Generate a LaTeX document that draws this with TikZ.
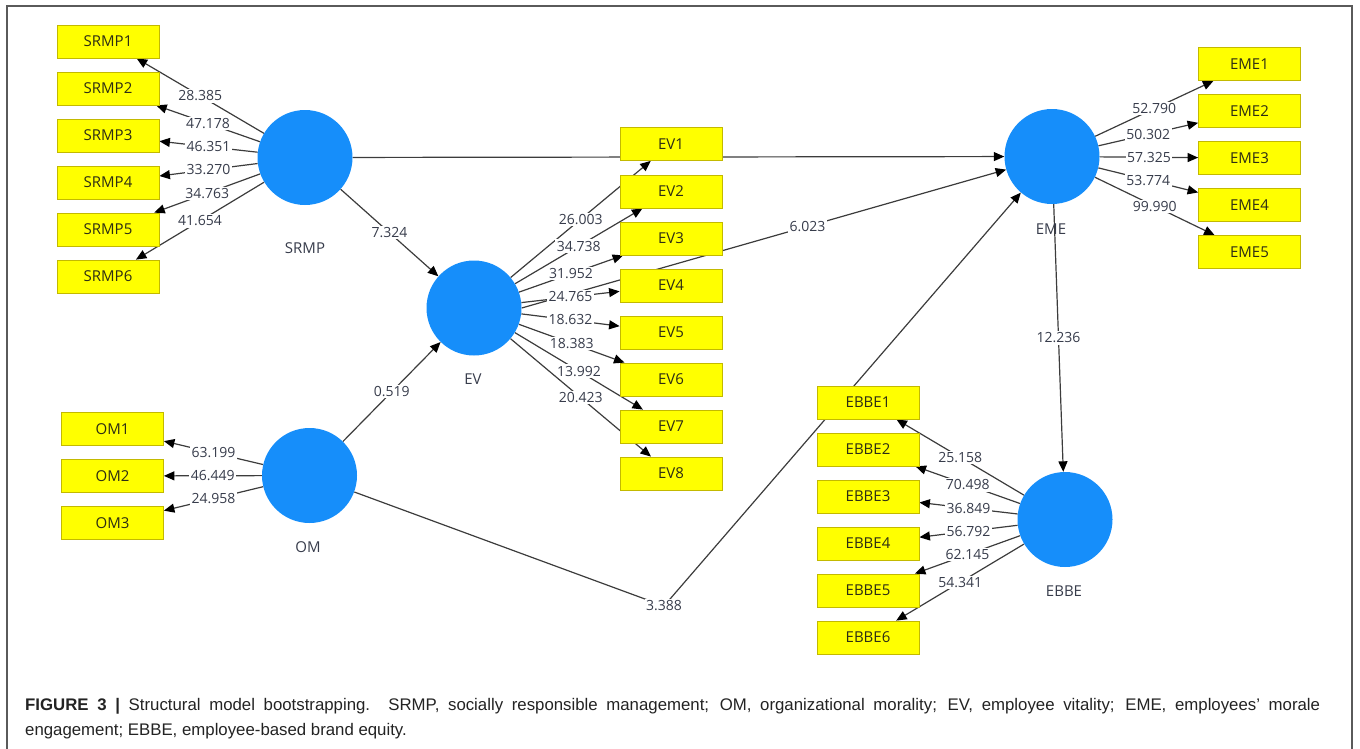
\documentclass[tikz,border=0pt]{standalone}
\usepackage{fontspec}
\setmainfont{Open Sans}
\newfontfamily\capfont{Liberation Sans}
\usetikzlibrary{arrows.meta,backgrounds}
\definecolor{lvblue}{RGB}{22,142,250}
\definecolor{mvyellow}{RGB}{255,255,0}
\definecolor{mvborder}{RGB}{195,185,0}
\definecolor{edgecol}{RGB}{60,60,60}
\definecolor{lblcol}{RGB}{55,60,75}
\definecolor{txtcol}{RGB}{45,45,20}
\definecolor{framecol}{RGB}{90,90,90}
\definecolor{capcol}{RGB}{35,35,35}
\begin{document}
\begin{tikzpicture}[x=1pt,y=-1pt,
  lv/.style={circle,fill=lvblue,minimum size=95pt,inner sep=0pt},
  mv/.style={rectangle,fill=mvyellow,draw=mvborder,line width=0.8pt,minimum width=102pt,minimum height=33pt,inner sep=0pt,font=\fontsize{15}{15}\selectfont,text=txtcol},
  lvname/.style={font=\fontsize{15}{15}\selectfont,text=lblcol},
  lbl/.style={fill=white,inner sep=1.5pt,font=\fontsize{14}{14}\selectfont,text=lblcol},
  edge/.style={draw=edgecol,line width=1.2pt,-{Triangle[length=10.5pt,width=9pt,color=black]}}
  ]
\useasboundingbox (0,0) rectangle (1360,748);
\draw[framecol,line width=1.3pt] (7,770) -- (7,6) -- (1352,6) -- (1352,770);

% latent variables
\node[lv] (SRMP) at (305,157.5) {};
\node[lv] (EV) at (474,308) {};
\node[lv] (EME) at (1052,156.5) {};
\node[lv] (EBBE) at (1065,519.5) {};
\node[lv] (OM) at (309.5,475.5) {};
\node[lvname] (SRMPn) at (305,248) {SRMP};
\node[lvname] (EVn) at (473,379) {EV};
\node[lvname] (EMEn) at (1051,229) {EME};
\node[lvname] (EBBEn) at (1064,591) {EBBE};
\node[lvname] (OMn) at (308,547) {OM};

% indicators
\foreach \i/\y in {1/41.5,2/88.5,3/135.5,4/182.5,5/229.5,6/276.5}
  \node[mv] (SRMP\i) at (108,\y) {SRMP\i};
\foreach \i/\y in {1/144,2/191.5,3/238.5,4/285.5,5/332.5,6/379.5,7/426.5,8/473.5}
  \node[mv] (EV\i) at (671,\y) {EV\i};
\foreach \i/\y in {1/64,2/111,3/158,4/205,5/252}
  \node[mv] (EME\i) at (1249.5,\y) {EME\i};
\foreach \i/\y in {1/402.5,2/449.5,3/496.5,4/543.5,5/590.5,6/637.5}
  \node[mv] (EBBE\i) at (868,\y) {EBBE\i};
\foreach \i/\y in {1/429,2/476,3/523}
  \node[mv] (OM\i) at (112.5,\y) {OM\i};

\coordinate (bend) at (664,606);

\begin{scope}[on background layer]
% structural paths
\draw[edge] (SRMP) -- (EME);
\draw[edge] (SRMP) -- node[lbl]{7.324} (EV);
\draw[edge] (OM) -- node[lbl]{0.519} (EV);
\draw[edge] (EV.east) -- node[lbl,pos=0.59]{6.023} (EME);
\draw[edge] (OM) -- (bend) -- (EME);
\node[lbl] (b3388) at (bend) {3.388};
\draw[edge] (EME) -- node[lbl]{12.236} (EBBE);

% outer model SRMP
\draw[edge] (SRMP) -- node[lbl]{28.385} (SRMP1);
\draw[edge] (SRMP) -- node[lbl]{47.178} (SRMP2);
\draw[edge] (SRMP) -- node[lbl]{46.351} (SRMP3);
\draw[edge] (SRMP) -- node[lbl]{33.270} (SRMP4);
\draw[edge] (SRMP) -- node[lbl]{34.763} (SRMP5);
\draw[edge] (SRMP) -- node[lbl]{41.654} (SRMP6);
% EV
\draw[edge] (EV) -- node[lbl]{26.003} (EV1);
\draw[edge] (EV) -- node[lbl]{34.738} (EV2);
\draw[edge] (EV) -- node[lbl]{31.952} (EV3);
\draw[edge] (EV) -- node[lbl]{24.765} (EV4);
\draw[edge] (EV) -- node[lbl]{18.632} (EV5);
\draw[edge] (EV) -- node[lbl]{18.383} (EV6);
\draw[edge] (EV) -- node[lbl]{13.992} (EV7);
\draw[edge] (EV) -- node[lbl]{20.423} (EV8);
% EME
\draw[edge] (EME) -- node[lbl]{52.790} (EME1);
\draw[edge] (EME) -- node[lbl]{50.302} (EME2);
\draw[edge] (EME) -- node[lbl]{57.325} (EME3);
\draw[edge] (EME) -- node[lbl]{53.774} (EME4);
\draw[edge] (EME) -- node[lbl]{99.990} (EME5);
% EBBE
\draw[edge] (EBBE) -- node[lbl]{25.158} (EBBE1);
\draw[edge] (EBBE) -- node[lbl]{70.498} (EBBE2);
\draw[edge] (EBBE) -- node[lbl]{36.849} (EBBE3);
\draw[edge] (EBBE) -- node[lbl]{56.792} (EBBE4);
\draw[edge] (EBBE) -- node[lbl]{62.145} (EBBE5);
\draw[edge] (EBBE) -- node[lbl]{54.341} (EBBE6);
% OM
\draw[edge] (OM) -- node[lbl]{63.199} (OM1);
\draw[edge] (OM) -- node[lbl]{46.449} (OM2);
\draw[edge] (OM) -- node[lbl]{24.958} (OM3);
\end{scope}

% caption
\node[anchor=west,inner sep=0pt,text width=1295pt,align=justify,font=\capfont\fontsize{16.8}{25}\selectfont,text=capcol] (cap) at (25,718.5)
 {\textbf{FIGURE 3 |} Structural model bootstrapping. SRMP, socially responsible management; OM, organizational morality; EV, employee vitality; EME, employees’ morale\linebreak
 engagement; EBBE, employee-based brand equity.};
\end{tikzpicture}
\end{document}
